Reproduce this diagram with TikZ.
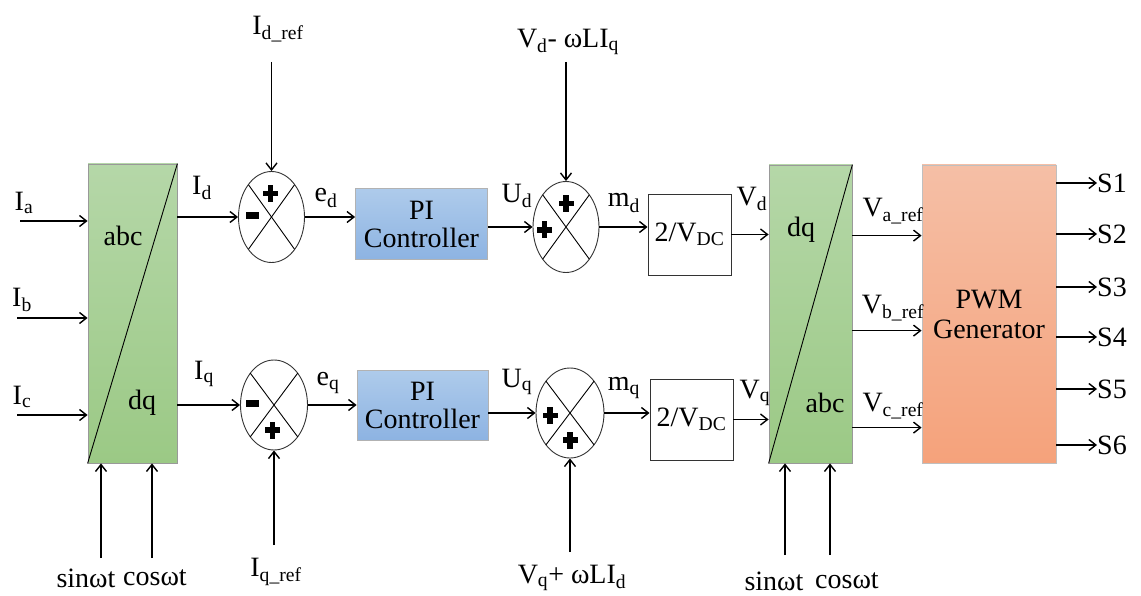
\documentclass[tikz,border=0pt]{standalone}
\usepackage{fontspec}
\setmainfont{Liberation Serif}
\usetikzlibrary{arrows.meta,shapes.geometric,calc}
\definecolor{gtop}{HTML}{B5D7A8}
\definecolor{gbot}{HTML}{9BC985}
\definecolor{btop}{HTML}{AECBEB}
\definecolor{bbot}{HTML}{8DB3E2}
\definecolor{otop}{HTML}{F5BFA6}
\definecolor{obot}{HTML}{F5A27B}
\newcommand\sbs[1]{\textsubscript{#1}}
\begin{document}
\begin{tikzpicture}[x=1pt,y=-1pt,
  font=\fontsize{28}{30}\selectfont,
  conn/.style={line width=1.4pt,-{Straight Barb[length=7pt,width=11pt,line width=1.4pt]}},
  greenbox/.style={draw=gray!80,line width=0.8pt,top color=gtop,bottom color=gbot,minimum width=#1,inner sep=0pt},
  piblock/.style={draw=gray!60,line width=0.8pt,top color=btop,bottom color=bbot,align=center,inner sep=0pt,minimum width=132pt,minimum height=71pt},
  gainbox/.style={draw=black!80,line width=0.9pt,fill=white,minimum width=83pt,minimum height=81pt,inner sep=0pt},
  sumnode/.style={draw=black!80,line width=0.9pt,ellipse,inner sep=0pt,minimum width=66pt,minimum height=91pt},
  lbl/.style={inner sep=0pt},
  psign/.pic={\fill (-7.5,-2.6) rectangle (7.5,2.6); \fill (-2.6,-8.5) rectangle (2.6,8.5);},
  msign/.pic={\fill (-6.5,-3.5) rectangle (6.5,3.5);}
]
\useasboundingbox (0,0) rectangle (1141,596);

% blocks
\node[greenbox=89pt,minimum height=299pt] (abc1) at (132.5,313.5) {};
\node[greenbox=83pt,minimum height=298pt] (dq2) at (810.5,314) {};
\node[draw=gray!50,line width=0.8pt,top color=otop,bottom color=obot,minimum width=134pt,minimum height=298pt,align=center,inner sep=0pt] (pwm) at (989,314) {PWM\\[0pt]Generator};
\draw[line width=0.9pt] (abc1.south west) -- (abc1.north east);
\draw[line width=0.9pt] (dq2.south west) -- (dq2.north east);
\node[lbl] (abcA) at (123,236) {abc};
\node[lbl] (dqA) at (142,403) {dq};
\node[lbl] (dqB) at (801,230) {dq};
\node[lbl] (abcB) at (825,403) {abc};

\node[sumnode] (s1) at (271.5,217) {};
\node[sumnode,minimum width=67pt,minimum height=90pt] (s2) at (274,405) {};
\node[sumnode] (s3) at (566,227) {};
\node[sumnode,minimum width=68pt,minimum height=90pt] (s4) at (570,413) {};
\foreach \s/\a/\b in {s1/32.5/45.5,s2/33.5/45,s3/33/45.5,s4/34/45}{
  \draw[line width=0.9pt] ($(\s)+(45:\a pt and \b pt)$) -- ($(\s)+(225:\a pt and \b pt)$);
  \draw[line width=0.9pt] ($(\s)+(135:\a pt and \b pt)$) -- ($(\s)+(315:\a pt and \b pt)$);
}
\pic at ($(s1)+(-1,-23.5)$) {psign};
\pic at ($(s1)+(-19,-1.5)$) {msign};
\pic at ($(s2)+(-21.5,-2)$) {msign};
\pic at ($(s2)+(-1.5,25)$) {psign};
\pic at ($(s3)+(0,-23.5)$) {psign};
\pic at ($(s3)+(-21.5,3)$) {psign};
\pic at ($(s4)+(-20,2.5)$) {psign};
\pic at ($(s4)+(0,27)$) {psign};

\node[piblock] (pi1) at (421.5,224) {PI\\[-2pt]Controller};
\node[piblock,minimum width=131pt,minimum height=70pt] (pi2) at (422.5,405) {PI\\[-2pt]Controller};
\node[gainbox] (g1) at (689.5,234.5) {2/V\sbs{DC}};
\node[gainbox] (g2) at (691.5,419.5) {2/V\sbs{DC}};

% inputs on the left
\coordinate (ia) at (20,221);
\coordinate (ib) at (17,318);
\coordinate (ic) at (17,415);
\node[lbl] at (24,203) {I\sbs{a}};
\node[lbl] at (22,300) {I\sbs{b}};
\node[lbl] at (22,397) {I\sbs{c}};
\draw[conn] (ia) -- (ia -| abc1.west);
\draw[conn] (ib) -- (ib -| abc1.west);
\draw[conn] (ic) -- (ic -| abc1.west);

% sin cos left
\node[lbl] (sin1) at (86,578) {sinωt};
\node[lbl] (cos1) at (155,578) {cosωt};
\coordinate (sin1a) at (101,558);
\coordinate (cos1a) at (152,558);
\draw[conn] (sin1a) -- (sin1a |- abc1.south);
\draw[conn] (cos1a) -- (cos1a |- abc1.south);

% d-axis chain
\node[lbl] at (202,188) {I\sbs{d}};
\draw[conn] (s1.west -| abc1.east) -- (s1.west);
\node[lbl] (idref) at (278,29) {I\sbs{d\_ref}};
\coordinate (idrefa) at (271.5,62);
\draw[conn] (idrefa) -- (s1.north);
\node[lbl] at (326,198) {e\sbs{d}};
\draw[conn] (s1.east) -- (s1.east -| pi1.west);
\node[lbl] at (517,196) {U\sbs{d}};
\draw[conn] (s3.west -| pi1.east) -- (s3.west);
\node[lbl] (vdref) at (568,42) {V\sbs{d}- ωLI\sbs{q}};
\coordinate (vdrefa) at (566,62);
\draw[conn] (vdrefa) -- (s3.north);
\node[lbl] at (624,203) {m\sbs{d}};
\draw[conn] (s3.east) -- (s3.east -| g1.west);
\node[lbl] at (752,199) {V\sbs{d}};
\draw[conn] (g1.east) -- (g1.east -| dq2.west);

% q-axis chain
\node[lbl] at (204,374) {I\sbs{q}};
\draw[conn] (s2.west -| abc1.east) -- (s2.west);
\node[lbl] (iqref) at (276,572) {I\sbs{q\_ref}};
\coordinate (iqrefa) at (274,545);
\draw[conn] (iqrefa) -- (s2.south);
\node[lbl] at (328,383) {e\sbs{q}};
\draw[conn] (s2.east) -- (s2.east -| pi2.west);
\node[lbl] at (517,382) {U\sbs{q}};
\draw[conn] (s4.west -| pi2.east) -- (s4.west);
\node[lbl] (vqref) at (572,578) {V\sbs{q}+ ωLI\sbs{d}};
\coordinate (vqrefa) at (570,552);
\draw[conn] (vqrefa) -- (s4.south);
\node[lbl] at (624,388) {m\sbs{q}};
\draw[conn] (s4.east) -- (s4.east -| g2.west);
\node[lbl] at (755,393) {V\sbs{q}};
\draw[conn] (g2.east) -- (g2.east -| dq2.west);

% sin cos right
\node[lbl] (sin2) at (774,581) {sinωt};
\node[lbl] (cos2) at (847,581) {cosωt};
\coordinate (sin2a) at (785,555);
\coordinate (cos2a) at (830,555);
\draw[conn] (sin2a) -- (sin2a |- dq2.south);
\draw[conn] (cos2a) -- (cos2a |- dq2.south);

% abc references
\path (dq2.north east) ++(0,71) coordinate (va);
\path (dq2.north east) ++(0,166) coordinate (vb);
\path (dq2.north east) ++(0,263) coordinate (vc);
\draw[conn] (va) -- (va -| pwm.west);
\draw[conn] (vb) -- (vb -| pwm.west);
\draw[conn] (vc) -- (vc -| pwm.west);
\node[lbl] at (893,211) {V\sbs{a\_ref}};
\node[lbl] at (893,308) {V\sbs{b\_ref}};
\node[lbl] at (893,406) {V\sbs{c\_ref}};

% switching outputs
\foreach \i/\y in {1/183,2/234,3/287,4/337,5/389,6/445}{
  \node[lbl,anchor=west] (so\i) at (1097,\y) {S\i};
  \draw[conn] (so\i.west -| pwm.east) -- (so\i.west);
}
\end{tikzpicture}
\end{document}
